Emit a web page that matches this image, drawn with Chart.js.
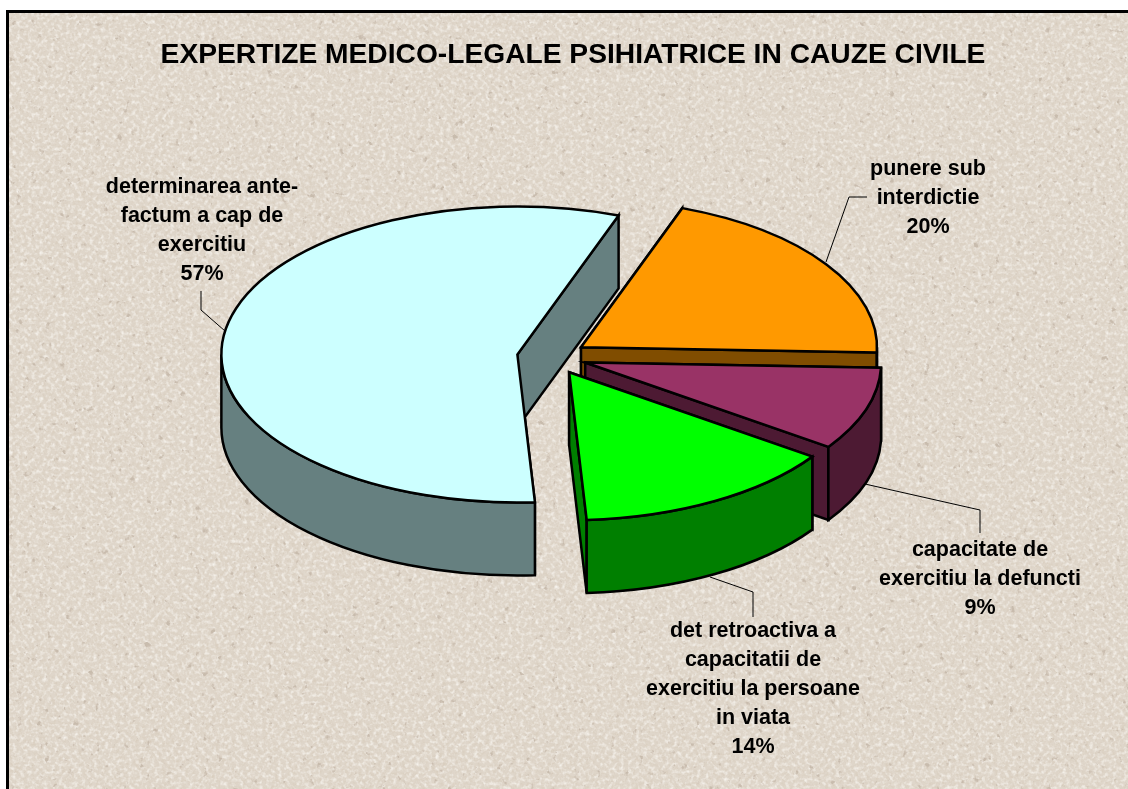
<!DOCTYPE html>
<html>
<head>
<meta charset="utf-8">
<style>
html,body{margin:0;padding:0;background:#fff;overflow:hidden;width:1128px;height:789px}
#bg{position:absolute;left:6px;top:10px;width:1122px;height:779px;box-sizing:border-box;border-left:3px solid #000;border-top:3px solid #000;overflow:hidden}
#bg svg{display:block}
#wrap{position:absolute;left:0;top:0;width:1128px;height:789px}
</style>
<script src="https://cdn.jsdelivr.net/npm/chart.js@4/dist/chart.umd.min.js"></script>
</head>
<body>
<div id="bg">
<svg width="1122" height="779" xmlns="http://www.w3.org/2000/svg">
<filter id="fine" x="0" y="0" width="100%" height="100%"><feTurbulence type="fractalNoise" baseFrequency="0.3" numOctaves="3" seed="7"/><feColorMatrix values="0 0 0 0 0.68  0 0 0 0 0.6  0 0 0 0 0.5  1.7 0 0 0 -0.68"/></filter>
<filter id="light" x="0" y="0" width="100%" height="100%"><feTurbulence type="fractalNoise" baseFrequency="0.26" numOctaves="2" seed="21"/><feColorMatrix values="0 0 0 0 0.95  0 0 0 0 0.93  0 0 0 0 0.89  1.9 0 0 0 -0.85"/></filter>
<filter id="spot" x="0" y="0" width="100%" height="100%"><feTurbulence type="fractalNoise" baseFrequency="0.14" numOctaves="3" seed="3"/><feColorMatrix values="0 0 0 0 0.58  0 0 0 0 0.5  0 0 0 0 0.42  7 0 0 0 -4.85"/></filter>
<rect width="100%" height="100%" fill="#DFD6CA"/>
<rect width="100%" height="100%" filter="url(#fine)"/>
<rect width="100%" height="100%" filter="url(#light)"/>
<rect width="100%" height="100%" filter="url(#spot)"/>
</svg>
</div>
<div id="wrap"><canvas id="c" width="1128" height="789"></canvas></div>
<script>
const titleText = "EXPERTIZE MEDICO-LEGALE PSIHIATRICE IN CAUZE CIVILE";
const categories = [
  ["punere sub", "interdictie"],
  ["capacitate de", "exercitiu la defuncti"],
  ["det retroactiva a", "capacitatii de", "exercitiu la persoane", "in viata"],
  ["determinarea ante-", "factum a cap de", "exercitiu"]
];
const percentLabels = ["20%", "9%", "14%", "57%"];
const values = [20, 9.1, 14.4, 56.5];
const topColors = ["#FF9900", "#993366", "#00FF00", "#CCFFFF"];
const wallColors = ["#804D00", "#4D1A33", "#007F00", "#668080"];
const labelAnchors = [[928, 169], [980, 550], [753, 631], [202, 187]];
const leaderLines = [
  [[867, 197], [849, 197], [826, 262]],
  [[865, 484], [980, 510], [980, 533]],
  [[710, 577], [753, 592], [753, 617]],
  [[201, 291], [201, 310], [225, 331]]
];
const paintOrder = [3, 0, 1, 2];
const pieCentre = [552, 357];
const squash = 0.5, depth = 73, explode = 35, lineH = 28.9;

const pie3d = {
  id: "pie3d",
  beforeDatasetDraw() { return false; },
  afterDatasetsDraw(chart) {
    const ctx = chart.ctx;
    const arcs = chart.getDatasetMeta(0).data;
    ctx.save();
    ctx.strokeStyle = "#000"; ctx.lineWidth = 1;
    leaderLines.forEach(l => {
      ctx.beginPath();
      l.forEach((p, i) => i ? ctx.lineTo(p[0], p[1]) : ctx.moveTo(p[0], p[1]));
      ctx.stroke();
    });
    ctx.lineJoin = "miter"; ctx.lineWidth = 2.5;
    paintOrder.forEach(i => {
      const arc = arcs[i];
      const a0 = arc.startAngle, a1 = arc.endAngle, r = arc.outerRadius;
      const mid = (a0 + a1) / 2;
      const px = pieCentre[0] + Math.cos(mid) * explode;
      const py = pieCentre[1] + Math.sin(mid) * explode * squash;
      const edge = a => [px + Math.cos(a) * r, py + Math.sin(a) * r * squash];
      ctx.fillStyle = wallColors[i];
      [a0, a1].forEach(a => {
        const e = edge(a);
        ctx.beginPath();
        ctx.moveTo(px, py); ctx.lineTo(e[0], e[1]);
        ctx.lineTo(e[0], e[1] + depth); ctx.lineTo(px, py + depth);
        ctx.closePath(); ctx.fill(); ctx.stroke();
      });
      const w0 = Math.max(a0, 0), w1 = Math.min(a1, Math.PI);
      if (w1 > w0) {
        ctx.beginPath();
        ctx.ellipse(px, py, r, r * squash, 0, w0, w1);
        ctx.ellipse(px, py + depth, r, r * squash, 0, w1, w0, true);
        ctx.closePath(); ctx.fill(); ctx.stroke();
      }
      ctx.save();
      ctx.translate(px, py); ctx.scale(1, squash); ctx.translate(-arc.x, -arc.y);
      arc.draw(ctx);
      ctx.restore();
      ctx.beginPath();
      ctx.moveTo(px, py);
      ctx.ellipse(px, py, r, r * squash, 0, a0, a1);
      ctx.closePath(); ctx.stroke();
    });
    ctx.fillStyle = "#000";
    ctx.font = "bold 21.5px 'Liberation Sans'";
    ctx.textAlign = "center"; ctx.textBaseline = "middle";
    categories.forEach((lines, i) => {
      lines.concat([percentLabels[i]]).forEach((t, k) =>
        ctx.fillText(t, labelAnchors[i][0], labelAnchors[i][1] + k * lineH));
    });
    ctx.restore();
  }
};

new Chart(document.getElementById("c"), {
  type: "pie",
  data: {
    labels: categories.map(l => l.join(" ")),
    datasets: [{ data: values, backgroundColor: topColors, borderWidth: 0, offset: 0 }]
  },
  options: {
    responsive: false,
    animation: false,
    rotation: 20,
    radius: 296,
    layout: { padding: { left: 18 } },
    plugins: {
      legend: { display: false },
      tooltip: { enabled: false },
      title: {
        display: true, text: titleText, color: "#000", fullSize: false,
        font: { family: "'Liberation Sans'", size: 28.2, weight: "bold" },
        padding: { top: 38, bottom: 10 }
      }
    }
  },
  plugins: [pie3d]
});
</script>
</body>
</html>
